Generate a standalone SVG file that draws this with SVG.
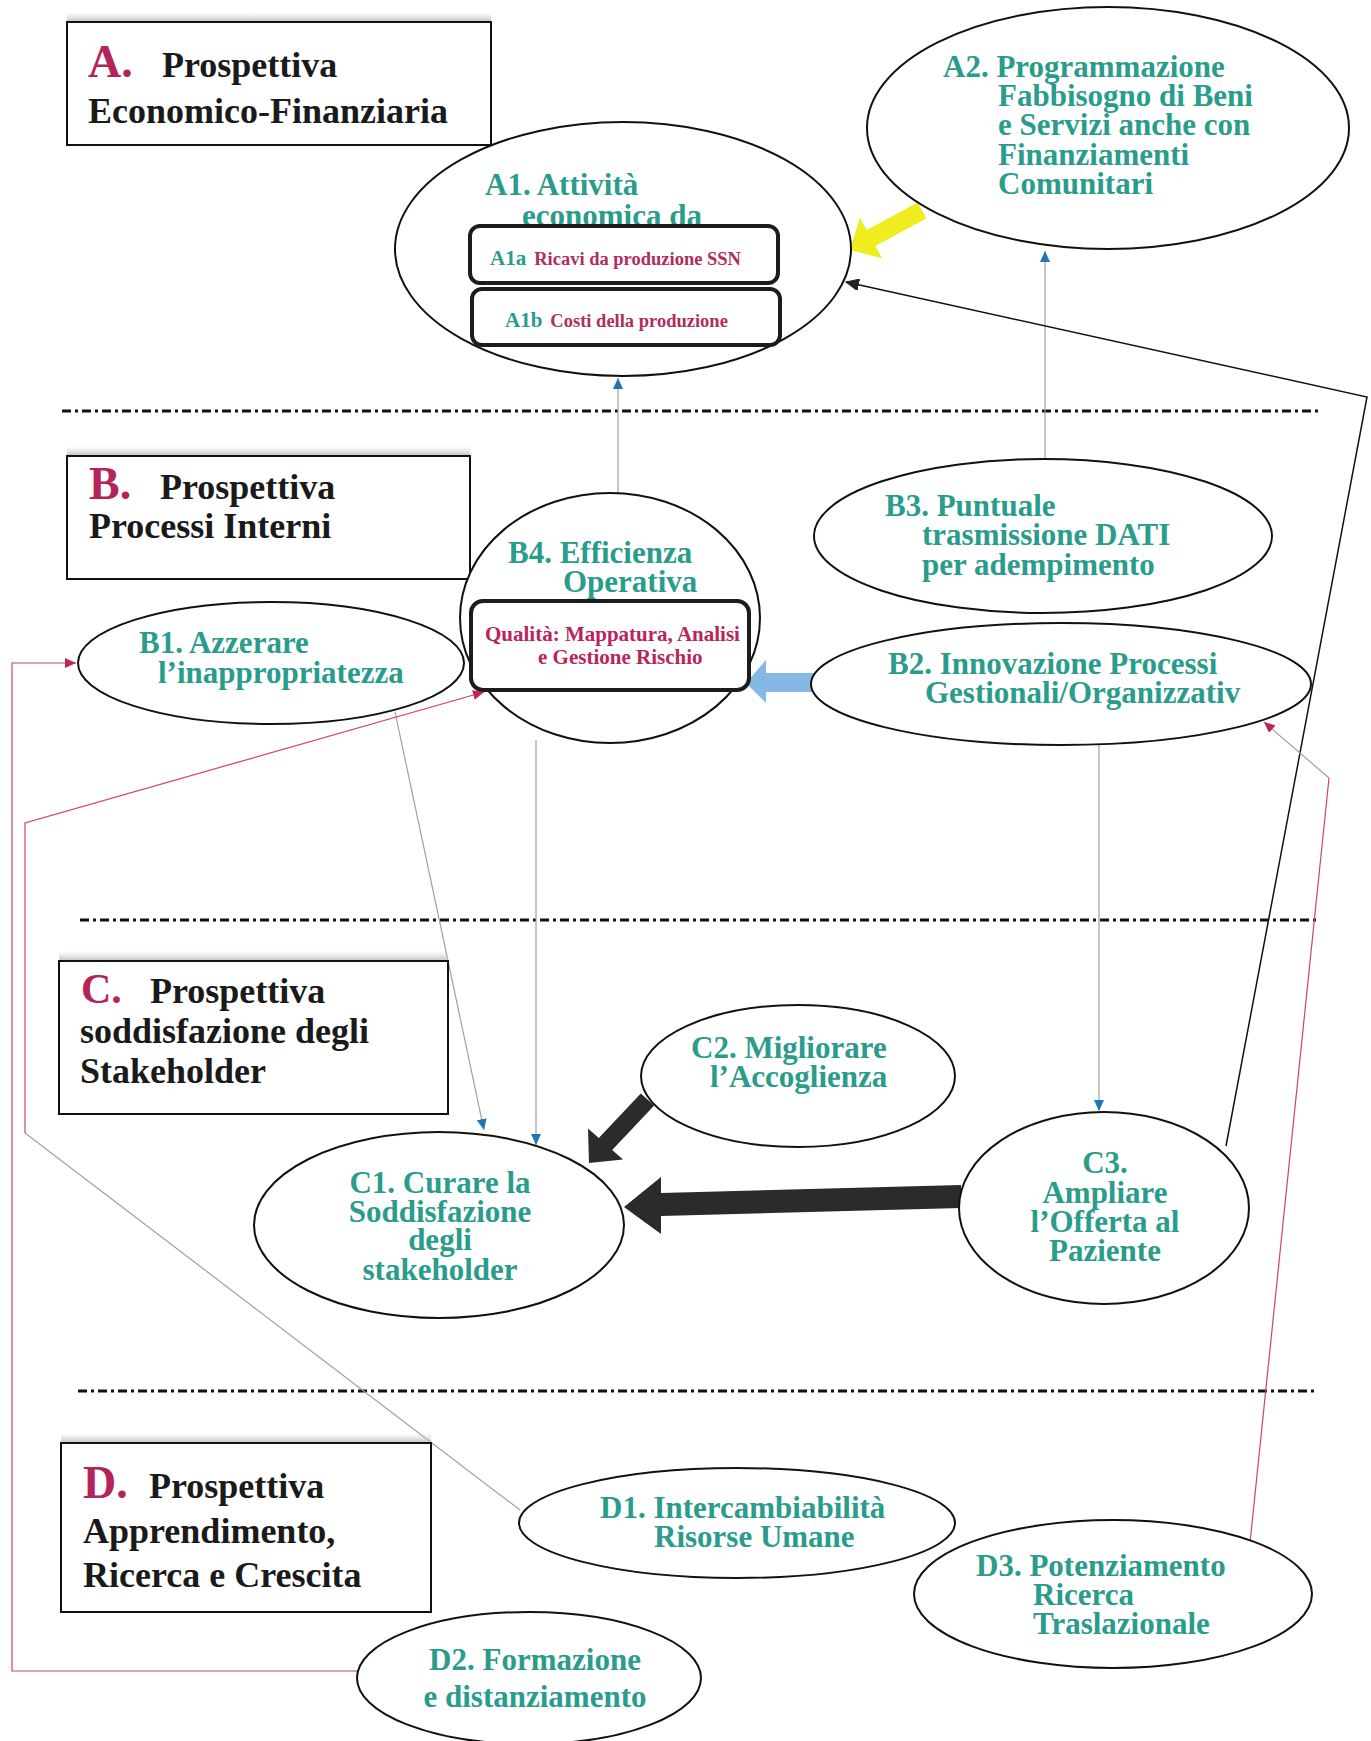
<svg xmlns="http://www.w3.org/2000/svg" width="1371" height="1741" viewBox="0 0 1371 1741">
<defs>
  <style>
    .sep{stroke:#111;stroke-width:3;stroke-dasharray:9 4 3 4;fill:none}
    .box{fill:#fff;stroke:#111;stroke-width:2}
    .ell{fill:#fff;stroke:#111;stroke-width:2}
    .sub{fill:#fff;stroke:#1c1c1c;stroke-width:4}
    .lab{font-family:"Liberation Serif","Times New Roman",serif;font-weight:bold;font-size:36px;fill:#1a1a1a}
    .let{font-family:"Liberation Serif","Times New Roman",serif;font-weight:bold;font-size:46px;fill:#b3245a}
    .nt{font-family:"Liberation Serif","Times New Roman",serif;font-weight:bold;font-size:31px;fill:#2a9c8b}
    .st{font-family:"Liberation Serif","Times New Roman",serif;font-weight:bold;font-size:18.5px;fill:#b02d5e}
    .stk{font-family:"Liberation Serif","Times New Roman",serif;font-weight:bold;font-size:21px;fill:#2a9c8b}
    .qt{font-family:"Liberation Serif","Times New Roman",serif;font-weight:bold;font-size:21px;fill:#b8255c}
    .gl{stroke:#a0a0a0;stroke-width:1.2;fill:none}
    .pl{stroke:#d2416f;stroke-width:1.2;fill:none}
    .bl{stroke:#111;stroke-width:1.5;fill:none}
  </style>
  <linearGradient id="shadow" x1="0" y1="0" x2="0" y2="1">
    <stop offset="0" stop-color="#d8d8d8" stop-opacity="0"/>
    <stop offset="1" stop-color="#b8b8b8" stop-opacity="0.9"/>
  </linearGradient>
  <marker id="mBlue" markerUnits="userSpaceOnUse" markerWidth="12" markerHeight="10" refX="11" refY="5" orient="auto">
    <path d="M0,0 L11,5 L0,10 z" fill="#1f76b2"/>
  </marker>
  <marker id="mPink" markerUnits="userSpaceOnUse" markerWidth="12" markerHeight="10" refX="11" refY="5" orient="auto">
    <path d="M0,0 L11,5 L0,10 z" fill="#c8215a"/>
  </marker>
  <marker id="mBlack" markerUnits="userSpaceOnUse" markerWidth="14" markerHeight="12" refX="13" refY="6" orient="auto">
    <path d="M0,0 L13,6 L0,12 z" fill="#222" stroke="#222" stroke-width="1"/>
  </marker>
</defs>
<rect width="1371" height="1741" fill="#fff"/>

<!-- separators -->
<g id="separators">
  <line class="sep" x1="62" y1="411" x2="1318" y2="411"/>
  <line class="sep" x1="80" y1="920" x2="1318" y2="920"/>
  <line class="sep" x1="78" y1="1391" x2="1318" y2="1391"/>
</g>

<!-- connectors -->
<g id="connectors">
  <line class="gl" x1="618" y1="493" x2="618" y2="378" marker-end="url(#mBlue)"/>
  <line class="gl" x1="1045" y1="459" x2="1045" y2="251" marker-end="url(#mBlue)"/>
  <polyline class="bl" points="1226,1146 1367,397 846,282" marker-end="url(#mBlack)"/>
  <line class="gl" x1="395" y1="712" x2="484" y2="1130" marker-end="url(#mBlue)"/>
  <line class="gl" x1="536" y1="740" x2="536" y2="1145" marker-end="url(#mBlue)"/>
  <line class="gl" x1="1099" y1="745" x2="1099" y2="1111" marker-end="url(#mBlue)"/>
  <polyline class="pl" points="358,1671 12,1671 12,663 76,663" marker-end="url(#mPink)"/>
  <polyline class="gl" points="520,1510 25,1133"/>
  <polyline class="pl" points="25,1133 25,823 484,692" marker-end="url(#mPink)"/>
  <polyline class="pl" points="1250,1543 1329,778"/>
  <polyline class="gl" points="1329,778 1264,722" marker-end="url(#mPink)"/>
  <!-- block arrows -->
  <polygon id="arrow-A2-A1" points="917.7,202.6 866.7,230.1 859.9,217.8 850,250 882.1,258.2 875.3,245.9 926.3,218.4" fill="#efec1f"/>
  <polygon id="arrow-B2-B4" points="814,673 766,673 766,660 746,683 766,703 766,692 814,692" fill="#86b8e6"/>
  <polygon id="arrow-C2-C1" points="640.8,1093.5 598.8,1138 588,1128.4 589,1163 623,1159.6 612.2,1150 654.2,1105.5" fill="#2b2b2b"/>
  <polygon id="arrow-C3-C1" points="961,1185 661,1193 661,1177 624,1207 661,1234 661,1216 961,1208" fill="#2b2b2b"/>
</g>

<!-- perspective boxes -->
<g id="boxA">
  <rect x="67" y="12" width="424" height="10" fill="url(#shadow)"/>
  <rect class="box" x="67" y="22" width="424" height="123"/>
  <text class="let" x="88" y="77">A.</text>
  <text class="lab" x="162" y="77">Prospettiva</text>
  <text class="lab" x="88" y="123">Economico-Finanziaria</text>
</g>
<g id="boxB">
  <rect x="67" y="446" width="403" height="10" fill="url(#shadow)"/>
  <rect class="box" x="67" y="456" width="403" height="123"/>
  <text class="let" x="89" y="499">B.</text>
  <text class="lab" x="160" y="499">Prospettiva</text>
  <text class="lab" x="89" y="538">Processi Interni</text>
</g>
<g id="boxC">
  <rect x="59" y="951" width="389" height="10" fill="url(#shadow)"/>
  <rect class="box" x="59" y="961" width="389" height="153"/>
  <text class="let" x="81" y="1003" style="font-size:42px">C.</text>
  <text class="lab" x="150" y="1003">Prospettiva</text>
  <text class="lab" x="80" y="1043">soddisfazione degli</text>
  <text class="lab" x="80" y="1083">Stakeholder</text>
</g>
<g id="boxD">
  <rect x="61" y="1433" width="370" height="10" fill="url(#shadow)"/>
  <rect class="box" x="61" y="1443" width="370" height="169"/>
  <text class="let" x="83" y="1498">D.</text>
  <text class="lab" x="149" y="1498">Prospettiva</text>
  <text class="lab" x="83" y="1543">Apprendimento,</text>
  <text class="lab" x="83" y="1587">Ricerca e Crescita</text>
</g>

<!-- nodes -->
<g id="A1">
  <ellipse class="ell" cx="623" cy="249" rx="228" ry="127"/>
  <text class="nt" x="485" y="195">A1. Attività</text>
  <text class="nt" x="522" y="226">economica da</text>
</g>
<g id="A1a">
  <rect class="sub" x="470" y="226" width="308" height="57" rx="10"/>
  <text x="490" y="265"><tspan class="stk">A1a</tspan><tspan class="st" dx="8">Ricavi da produzione SSN</tspan></text>
</g>
<g id="A1b">
  <rect class="sub" x="472" y="289" width="308" height="56" rx="10"/>
  <text x="505" y="327"><tspan class="stk">A1b</tspan><tspan class="st" dx="8">Costi della produzione</tspan></text>
</g>
<g id="A2">
  <ellipse class="ell" cx="1108" cy="128" rx="241" ry="121"/>
  <text class="nt" x="943" y="77">A2. Programmazione</text>
  <text class="nt" x="998" y="106">Fabbisogno di Beni</text>
  <text class="nt" x="998" y="135">e Servizi anche con</text>
  <text class="nt" x="998" y="165">Finanziamenti</text>
  <text class="nt" x="998" y="194">Comunitari</text>
</g>
<g id="B4">
  <ellipse class="ell" cx="610" cy="618" rx="150" ry="125"/>
  <text class="nt" x="508" y="563">B4. Efficienza</text>
  <text class="nt" x="563" y="592">Operativa</text>
  <rect class="sub" x="471" y="601" width="278" height="89" rx="12"/>
  <text class="qt" x="485" y="641">Qualità: Mappatura, Analisi</text>
  <text class="qt" x="538" y="664">e Gestione Rischio</text>
</g>
<g id="B1">
  <ellipse class="ell" cx="271" cy="663" rx="193" ry="61"/>
  <text class="nt" x="139" y="653">B1. Azzerare</text>
  <text class="nt" x="158" y="683">l’inappropriatezza</text>
</g>
<g id="B3">
  <ellipse class="ell" cx="1043" cy="536" rx="229" ry="77"/>
  <text class="nt" x="885" y="516">B3. Puntuale</text>
  <text class="nt" x="922" y="545">trasmissione DATI</text>
  <text class="nt" x="922" y="575">per adempimento</text>
</g>
<g id="B2">
  <ellipse class="ell" cx="1061" cy="684" rx="250" ry="61"/>
  <text class="nt" x="888" y="674">B2. Innovazione Processi</text>
  <text class="nt" x="925" y="703">Gestionali/Organizzativ</text>
</g>
<g id="C1">
  <ellipse class="ell" cx="439" cy="1225" rx="185" ry="93"/>
  <text class="nt" x="440" y="1193" text-anchor="middle">C1. Curare la</text>
  <text class="nt" x="440" y="1222" text-anchor="middle">Soddisfazione</text>
  <text class="nt" x="440" y="1250" text-anchor="middle">degli</text>
  <text class="nt" x="440" y="1280" text-anchor="middle">stakeholder</text>
</g>
<g id="C2">
  <ellipse class="ell" cx="798" cy="1076" rx="157" ry="71"/>
  <text class="nt" x="691" y="1058">C2. Migliorare</text>
  <text class="nt" x="710" y="1087">l’Accoglienza</text>
</g>
<g id="C3">
  <ellipse class="ell" cx="1104" cy="1208" rx="145" ry="96"/>
  <text class="nt" x="1105" y="1173" text-anchor="middle">C3.</text>
  <text class="nt" x="1105" y="1203" text-anchor="middle">Ampliare</text>
  <text class="nt" x="1105" y="1232" text-anchor="middle">l’Offerta al</text>
  <text class="nt" x="1105" y="1261" text-anchor="middle">Paziente</text>
</g>
<g id="D1">
  <ellipse class="ell" cx="737" cy="1523" rx="218" ry="55"/>
  <text class="nt" x="600" y="1518">D1. Intercambiabilità</text>
  <text class="nt" x="654" y="1547">Risorse Umane</text>
</g>
<g id="D2">
  <ellipse class="ell" cx="529" cy="1678" rx="172" ry="66"/>
  <text class="nt" x="535" y="1670" text-anchor="middle">D2. Formazione</text>
  <text class="nt" x="535" y="1707" text-anchor="middle">e distanziamento</text>
</g>
<g id="D3">
  <ellipse class="ell" cx="1113" cy="1594" rx="199" ry="74"/>
  <text class="nt" x="976" y="1576">D3. Potenziamento</text>
  <text class="nt" x="1033" y="1605">Ricerca</text>
  <text class="nt" x="1033" y="1634">Traslazionale</text>
</g>
</svg>
